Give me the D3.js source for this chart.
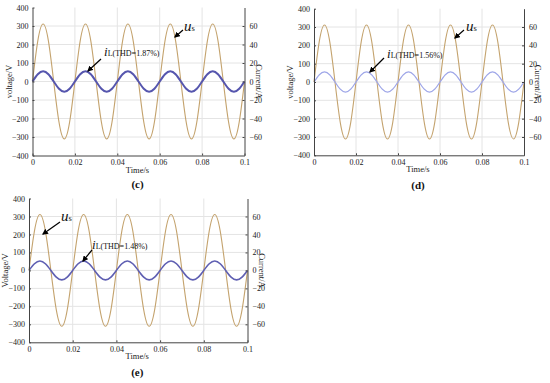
<!DOCTYPE html>
<html>
<head>
<meta charset="utf-8">
<title>Grid voltage and current</title>
<script src="https://cdn.jsdelivr.net/npm/d3@7"></script>
<style>
  body { margin: 0; background: #fff; }
  svg text { font-family: "Liberation Serif", "DejaVu Serif", serif; }
  .axis path, .axis line { stroke: #444; }
  .grid line { stroke: #e4e4e4; }
</style>
</head>
<body>
<svg id="chart" width="550" height="383"></svg>
<script>
// sample times, every 0.0025 s
var timeS = [0, 0.0025, 0.005, 0.0075, 0.01, 0.0125, 0.015, 0.0175,
  0.02, 0.0225, 0.025, 0.0275, 0.03, 0.0325, 0.035, 0.0375,
  0.04, 0.0425, 0.045, 0.0475, 0.05, 0.0525, 0.055, 0.0575,
  0.06, 0.0625, 0.065, 0.0675, 0.07, 0.0725, 0.075, 0.0775,
  0.08, 0.0825, 0.085, 0.0875, 0.09, 0.0925, 0.095, 0.0975, 0.1];

// grid voltage u_s (V), same in all three panels
var voltage = [0, 220, 311, 220, 0, -220, -311, -220,
  0, 220, 311, 220, 0, -220, -311, -220,
  0, 220, 311, 220, 0, -220, -311, -220,
  0, 220, 311, 220, 0, -220, -311, -220,
  0, 220, 311, 220, 0, -220, -311, -220, 0];

// line current i_L (A)
var currentC = [0, 7.8, 11, 7.8, 0, -7.8, -11, -7.8,
  0, 7.8, 11, 7.8, 0, -7.8, -11, -7.8,
  0, 7.8, 11, 7.8, 0, -7.8, -11, -7.8,
  0, 7.8, 11, 7.8, 0, -7.8, -11, -7.8,
  0, 7.8, 11, 7.8, 0, -7.8, -11, -7.8, 0];
var currentD = [0, 7.8, 11, 7.8, 0, -7.8, -11, -7.8,
  0, 7.8, 11, 7.8, 0, -7.8, -11, -7.8,
  0, 7.8, 11, 7.8, 0, -7.8, -11, -7.8,
  0, 7.8, 11, 7.8, 0, -7.8, -11, -7.8,
  0, 7.8, 11, 7.8, 0, -7.8, -11, -7.8, 0];
var currentE = [0, 7.4, 10.5, 7.4, 0, -7.4, -10.5, -7.4,
  0, 7.4, 10.5, 7.4, 0, -7.4, -10.5, -7.4,
  0, 7.4, 10.5, 7.4, 0, -7.4, -10.5, -7.4,
  0, 7.4, 10.5, 7.4, 0, -7.4, -10.5, -7.4,
  0, 7.4, 10.5, 7.4, 0, -7.4, -10.5, -7.4, 0];

var timeTicks = [0, 0.02, 0.04, 0.06, 0.08, 0.1];
var voltTicks = [-400, -300, -200, -100, 0, 100, 200, 300, 400];
var ampTicks = [-60, -40, -20, 0, 20, 40, 60];

var svg = d3.select("#chart");

var panels = [
  { x0: 32.5, x1: 244.5, y0: 7.5, y1: 155.5, cur: currentC, curColor: "#5656ae", curWidth: 2,
    vLabel: "voltage/V", thd: "L(THD=1.87%)", tag: "(c)", tagY: 188,
    us: [184, 31], usArrow: [183, 30, 175, 37], il: [104, 56], ilArrow: [101, 59, 88, 71] },
  { x0: 314, x1: 524, y0: 8.7, y1: 155.3, cur: currentD, curColor: "#9ea6e8", curWidth: 1.3,
    vLabel: "voltage/V", thd: "L(THD=1.56%)", tag: "(d)", tagY: 189,
    us: [466, 31], usArrow: [464, 30, 455, 38], il: [387, 58], ilArrow: [384, 58, 370, 72] },
  { x0: 29, x1: 247.5, y0: 198.5, y1: 342.3, cur: currentE, curColor: "#5f5fb2", curWidth: 1.6,
    vLabel: "Voltage/V", thd: "L(THD=1.48%)", tag: "(e)", tagY: 376,
    us: [61, 221], usArrow: [60, 222, 43, 234], il: [92, 249], ilArrow: [92, 250, 83, 261] }
];

// arrow head
svg.append("defs").append("marker")
    .attr("id", "head")
    .attr("viewBox", "0 0 10 10")
    .attr("refX", 8).attr("refY", 5)
    .attr("markerWidth", 5).attr("markerHeight", 5)
    .attr("orient", "auto")
  .append("path")
    .attr("d", "M0,0L10,5L0,10z")
    .attr("fill", "#000");

panels.forEach(function(p) {
  var x = d3.scaleLinear().domain([0, 0.1]).range([p.x0, p.x1]);
  var yV = d3.scaleLinear().domain([-400, 400]).range([p.y1, p.y0]);
  var yA = d3.scaleLinear().domain([-80, 80]).range([p.y1, p.y0]);

  var g = svg.append("g");

  // grid
  var grid = g.append("g").attr("class", "grid");
  grid.selectAll(".gx").data(timeTicks.slice(1, -1)).enter().append("line")
      .attr("x1", function(d) { return x(d); }).attr("x2", function(d) { return x(d); })
      .attr("y1", p.y0).attr("y2", p.y1);
  grid.selectAll(".gy").data(voltTicks.slice(1, -1)).enter().append("line")
      .attr("x1", p.x0).attr("x2", p.x1)
      .attr("y1", function(d) { return yV(d); }).attr("y2", function(d) { return yV(d); });

  var pts = timeS.map(function(t, i) { return { t: t, v: voltage[i], a: p.cur[i] }; });

  g.append("path")
      .datum(pts)
      .attr("fill", "none")
      .attr("stroke", "#c4a36e")
      .attr("stroke-width", 1.1)
      .attr("d", d3.line().curve(d3.curveNatural)
        .x(function(d) { return x(d.t); })
        .y(function(d) { return yV(d.v); }));

  g.append("path")
      .datum(pts)
      .attr("fill", "none")
      .attr("stroke", p.curColor)
      .attr("stroke-width", p.curWidth)
      .attr("d", d3.line().curve(d3.curveNatural)
        .x(function(d) { return x(d.t); })
        .y(function(d) { return yA(d.a); }));

  // axes
  var fmtT = function(d) { return String(d); };
  g.append("g").attr("class", "axis")
      .attr("transform", "translate(0," + p.y1 + ")")
      .call(d3.axisBottom(x).tickValues(timeTicks).tickFormat(fmtT).tickSizeInner(-2).tickSizeOuter(0).tickPadding(4))
      .call(function(a) { a.selectAll("text").attr("font-size", 8).attr("fill", "#222"); });
  g.append("g").attr("class", "axis")
      .attr("transform", "translate(" + p.x0 + ",0)")
      .call(d3.axisLeft(yV).tickValues(voltTicks).tickSizeInner(-2).tickSizeOuter(0).tickPadding(4))
      .call(function(a) { a.selectAll("text").attr("font-size", 8).attr("fill", "#222"); });
  g.append("g").attr("class", "axis")
      .attr("transform", "translate(" + p.x1 + ",0)")
      .call(d3.axisRight(yA).tickValues(ampTicks).tickSizeInner(-2).tickSizeOuter(0).tickPadding(5))
      .call(function(a) { a.selectAll("text").attr("font-size", 8).attr("fill", "#222"); });

  var midY = (p.y0 + p.y1) / 2;
  g.append("text")
      .attr("transform", "translate(" + (p.x0 - 21) + "," + midY + ") rotate(-90)")
      .attr("text-anchor", "middle")
      .attr("font-size", 8.5).attr("fill", "#222")
      .text(p.vLabel);
  g.append("text")
      .attr("transform", "translate(" + (p.x1 + 11) + "," + midY + ") rotate(90)")
      .attr("text-anchor", "middle")
      .attr("font-size", 8.5).attr("fill", "#222")
      .text("Current/A");
  g.append("text")
      .attr("x", (p.x0 + p.x1) / 2 - 1).attr("y", p.y1 + 17)
      .attr("text-anchor", "middle")
      .attr("font-size", 8.5).attr("fill", "#222")
      .text("Time/s");
  g.append("text")
      .attr("x", (p.x0 + p.x1) / 2 - 1).attr("y", p.tagY)
      .attr("text-anchor", "middle")
      .attr("font-size", 11).attr("font-weight", "bold").attr("fill", "#111")
      .text(p.tag);

  // annotations
  var us = g.append("text").attr("x", p.us[0]).attr("y", p.us[1]).attr("fill", "#111");
  us.append("tspan").attr("font-size", 15).attr("font-style", "italic").text("u");
  us.append("tspan").attr("font-size", 8.5).text("s");

  var il = g.append("text").attr("x", p.il[0]).attr("y", p.il[1]).attr("fill", "#111");
  il.append("tspan").attr("font-size", 13).attr("font-style", "italic").text("i");
  il.append("tspan").attr("font-size", 8).text(p.thd);

  [p.usArrow, p.ilArrow].forEach(function(a) {
    g.append("line")
        .attr("x1", a[0]).attr("y1", a[1]).attr("x2", a[2]).attr("y2", a[3])
        .attr("stroke", "#000").attr("stroke-width", 1.2)
        .attr("marker-end", "url(#head)");
  });
});
</script>
</body>
</html>
